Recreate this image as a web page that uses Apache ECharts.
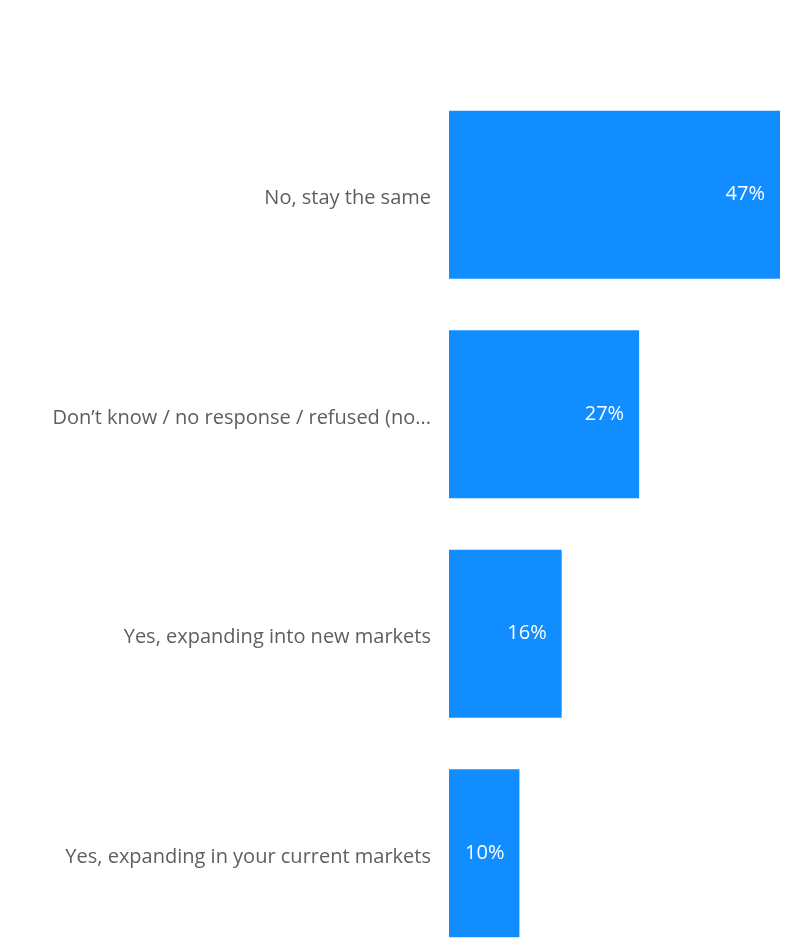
<!DOCTYPE html>
<html>
<head>
<meta charset="utf-8">
<script src="https://cdn.jsdelivr.net/npm/echarts@6/dist/echarts.min.js"></script>
<style>
  html, body { margin: 0; padding: 0; background: #ffffff; }
  #chart { width: 794px; height: 943px; }
</style>
</head>
<body>
<div id="chart"></div>
<script>
// Survey answers, top to bottom
const categories = [
  'No, stay the same',
  'Don’t know / no response / refused (no...',
  'Yes, expanding into new markets',
  'Yes, expanding in your current markets'
];
// Share of respondents (%)
const shares = [47, 27, 16, 10];

const chart = echarts.init(document.getElementById('chart'));
chart.setOption({
  animation: false,
  // the last band runs past the bottom edge of the canvas
  grid: {
    left: 449, right: 14, top: 85, height: 878,
    containLabel: false,
    outerBoundsMode: 'none'
  },
  xAxis: {
    type: 'value',
    min: 0,
    max: 47,
    show: false
  },
  yAxis: {
    type: 'category',
    data: categories,
    inverse: true,
    axisLine: { show: false },
    axisTick: { show: false },
    axisLabel: {
      margin: 18,
      formatter: v => '{t|' + v + '}',
      rich: {
        t: {
          color: '#605E5C',
          fontFamily: 'Open Sans',
          fontSize: 20,
          padding: [8, 0, 0, 0]
        }
      }
    }
  },
  series: [{
    type: 'bar',
    data: shares,
    barWidth: 168,
    itemStyle: { color: '#118DFF' },
    label: {
      show: true,
      position: 'insideRight',
      distance: 15,
      color: '#ffffff',
      fontFamily: 'Open Sans',
      fontSize: 20,
      formatter: p => p.value + '%'
    }
  }]
});
</script>
</body>
</html>
